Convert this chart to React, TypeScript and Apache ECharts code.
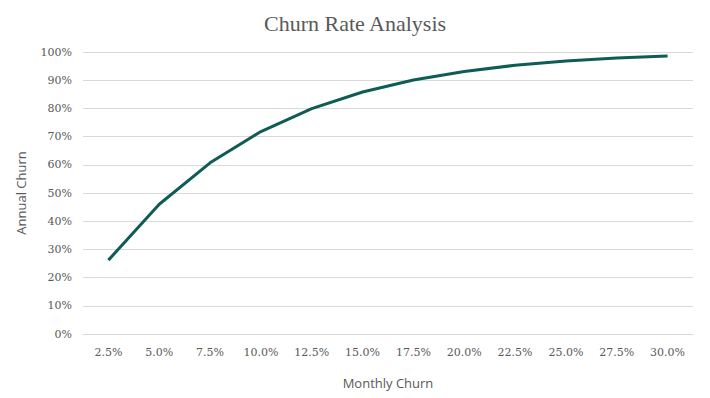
import React, { useEffect, useRef } from "react";
import * as echarts from "echarts";

const categories = ["2.5%", "5.0%", "7.5%", "10.0%", "12.5%", "15.0%", "17.5%", "20.0%", "22.5%", "25.0%", "27.5%", "30.0%"];
const annualChurn = [26.2, 46.0, 60.7, 71.8, 79.9, 85.8, 90.1, 93.1, 95.3, 96.8, 97.9, 98.6];

export default function App() {
  const ref = useRef<HTMLDivElement>(null);
  useEffect(() => {
    const chart = echarts.init(ref.current!, null, { renderer: "svg" });
    chart.setOption({
      animation: false,
      backgroundColor: "#ffffff",
      title: {
        text: "Churn Rate Analysis",
        left: "center",
        top: 7,
        textStyle: { fontFamily: "Liberation Serif", fontSize: 22, fontWeight: "normal", color: "#595959" },
      },
      grid: { left: 83, right: 17, top: 52, bottom: 64 },
      xAxis: {
        type: "category",
        data: categories,
        boundaryGap: true,
        name: "Monthly Churn",
        nameLocation: "middle",
        nameGap: 42,
        nameTextStyle: { fontFamily: "Open Sans", fontSize: 13, color: "#595959" },
        axisLine: { show: true, lineStyle: { color: "#d9d9d9" } },
        axisTick: { show: false },
        axisLabel: { fontFamily: "DejaVu Serif", fontSize: 11, color: "#595959", margin: 13 },
      },
      yAxis: {
        type: "value",
        min: 0,
        max: 100,
        interval: 10,
        name: "Annual Churn",
        nameLocation: "middle",
        nameGap: 56,
        nameTextStyle: { fontFamily: "Open Sans", fontSize: 13, color: "#595959" },
        axisLine: { show: false },
        axisTick: { show: false },
        splitLine: { lineStyle: { color: "#d9d9d9", width: 1 } },
        axisLabel: { formatter: "{value}%", fontFamily: "DejaVu Serif", fontSize: 11, color: "#595959", margin: 11 },
      },
      series: [
        {
          type: "line",
          data: annualChurn,
          symbol: "none",
          smooth: false,
          lineStyle: { color: "#0f5c57", width: 3 },
        },
      ],
    });
    return () => chart.dispose();
  }, []);
  return <div ref={ref} style={{ width: 710, height: 398, position: "absolute", left: 0, top: 0 }} />;
}
